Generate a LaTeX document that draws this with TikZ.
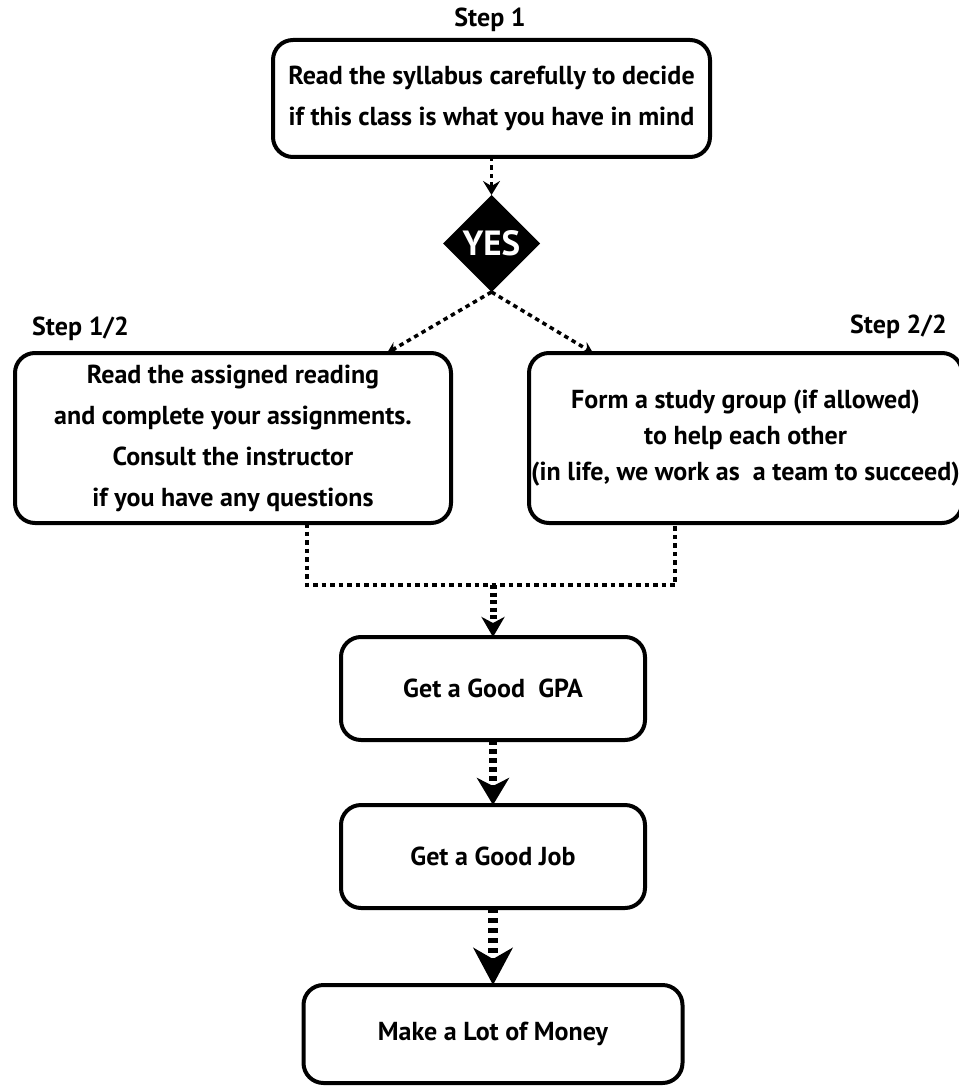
\documentclass[tikz,border=0pt]{standalone}
\usepackage{fontspec}
\setmainfont{PT Sans}
\usepackage{tikz}
\usetikzlibrary{arrows.meta,positioning,shapes.geometric}

\begin{document}
\begin{tikzpicture}[x=1pt, y=-1pt, node distance=40pt,
    block/.style={rectangle, draw, line width=4pt, rounded corners=20pt, align=center, inner sep=0pt, outer sep=0pt, font=\bfseries\fontsize{26}{41}\selectfont},
    steplabel/.style={inner sep=0pt, font=\bfseries\fontsize{26}{30}\selectfont},
    decision/.style={diamond, fill=black, text=white, inner sep=0pt, outer sep=0pt, minimum width=97pt, minimum height=97pt, font=\bfseries\fontsize{35}{35}\selectfont},
    link/.style={line width=3.5pt, dash pattern=on 4.5pt off 4pt},
    arrow/.style={link, -{Stealth[length=14pt, width=17pt, inset=5pt]}},
    arrowsmall/.style={link, -{Stealth[length=11pt, width=12pt, inset=4pt]}},
    arrowmid/.style={line width=7pt, dash pattern=on 4pt off 3.5pt, -{Stealth[length=20pt, width=23pt, inset=6pt]}},
    arrowbig/.style={line width=8pt, dash pattern=on 5pt off 4pt, -{Stealth[length=27pt, width=32pt, inset=8pt]}},
    arrowhuge/.style={line width=10pt, dash pattern=on 5pt off 5pt, -{Stealth[length=37pt, width=39pt, inset=11pt]}}]

\useasboundingbox (0,0) rectangle (958,1086);

\node[block, minimum width=437pt, minimum height=117pt] (s1) at (491.5,98.5) {Read the syllabus carefully to decide\\if this class is what you have in mind};
\node[steplabel] (lbl1) at (490,20) {Step 1};
\node[decision, below=38pt of s1] (yes) {YES};

\node[block, minimum width=436pt, minimum height=170pt] (read) at (233,438) {Read the assigned reading\\and complete your assignments.\\Consult the instructor\\if you have any questions};
\node[block, minimum width=433pt, minimum height=170pt, font=\bfseries\fontsize{26}{36}\selectfont] (group) at (745.5,438) {Form a study group (if allowed)\\to help each other\\(in life, we work as~ a team to succeed)};
\node[steplabel, anchor=west] (lbl12) at (32,329) {Step 1/2};
\node[steplabel, anchor=east] (lbl22) at (947,327) {Step 2/2};

\coordinate (merge) at (493,585);
\node[block, minimum width=304pt, minimum height=103pt, below=52pt of merge] (gpa) {Get a Good~ GPA};
\node[block, minimum width=304pt, minimum height=103pt, below=65pt of gpa] (job) {Get a Good Job};
\node[block, minimum width=379pt, minimum height=98pt, below=77pt of job] (money) {Make a Lot of Money};

\draw[arrow] (s1.south) -- (yes.north);
\draw[arrowsmall] (yes.south) -- ([xshift=154pt]read.north);
\draw[arrowsmall] (yes.south) -- ([xshift=-152.5pt]group.north);
\draw[link] ([xshift=74pt]read.south) |- (merge) -| ([xshift=-70.5pt]group.south);
\draw[arrowmid] (merge) -- (gpa.north);
\draw[arrowbig] (gpa.south) -- (job.north);
\draw[arrowhuge] (job.south) -- (money.north);
\end{tikzpicture}
\end{document}
